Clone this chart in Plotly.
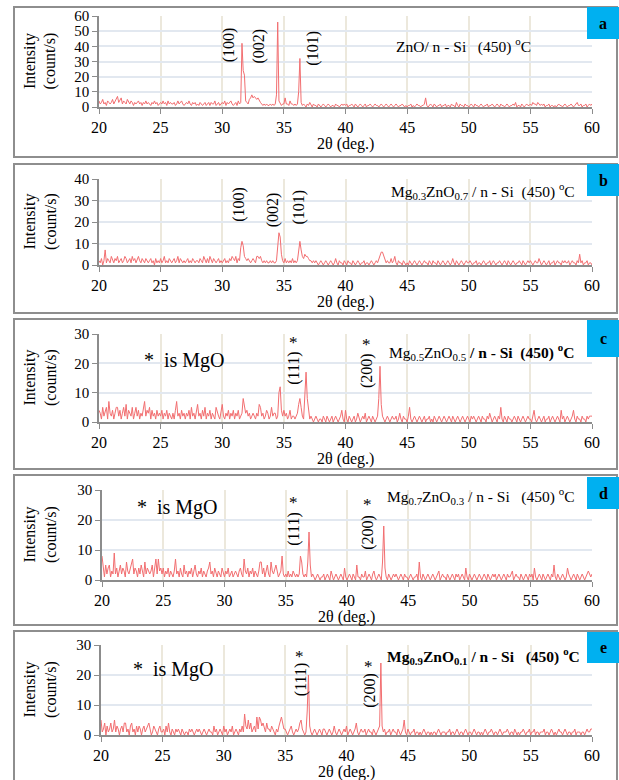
import plotly.graph_objects as go

# ---------------- data (intensity, counts/s), one row per degree, 0.1 deg step ----------------
two_theta_start = 20
ticks_x = [20, 25, 30, 35, 40, 45, 50, 55, 60]

znO_rows = [
 [4,2,3,5,2,3,1,4,3,2],[3,5,2,4,6,7,3,5,6,2],[4,3,2,5,3,2,4,3,1,3],[2,3,4,2,3,1,3,2,4,2],
 [3,2,1,3,2,4,2,3,1,2],[3,2,4,2,3,1,4,2,3,2],[2,3,1,2,4,2,3,4,2,1],[2,3,2,4,2,1,3,2,3,1],
 [2,1,3,2,1,2,3,1,2,3],[1,3,2,2,4,1,2,3,1,2],[3,2,4,1,3,2,3,4,2,1],[2,3,1,4,2,3,42,24,21,4],
 [3,2,5,6,8,6,7,6,5,6],[4,3,2,1,2,1,2,1,1,2],[1,2,1,2,8,56,4,2,1,2],[2,6,2,2,1,4,2,2,1,2],
 [1,2,10,32,3,1,2,1,0,2],[1,3,1,0,2,1,1,0,2,1],[0,1,2,1,0,1,2,1,0,1],[1,0,2,1,1,0,1,2,1,2],
 [1,2,0,1,1,2,1,0,2,1],[0,1,2,1,0,1,2,0,1,1],[2,1,0,1,2,1,1,0,1,2],[1,0,1,2,1,0,1,2,1,0],
 [1,2,1,0,1,1,2,1,0,1],[0,1,1,2,0,1,0,1,2,1],[1,0,1,1,2,6,1,0,1,2],[1,0,2,1,0,1,1,2,0,1],
 [1,2,0,1,1,0,2,1,1,0],[3,1,0,2,1,1,0,2,1,1],[0,1,2,1,0,2,1,1,0,1],[2,1,0,1,1,2,0,1,1,2],
 [1,0,1,2,1,0,2,1,1,0],[1,2,1,0,1,1,2,1,3,0],[1,1,0,2,1,0,1,2,1,1],[2,1,3,2,2,1,3,2,1,2],
 [1,2,0,1,1,2,0,1,1,0],[1,0,1,2,1,1,0,1,2,1],[0,1,1,2,1,0,1,2,3,1],[1,2,0,1,1,2,0,1,2,1],
 [2]]

mg03_rows = [
 [2,1,3,0,2,7,1,3,2,1],[4,2,1,3,2,4,1,2,3,1],[2,4,3,1,2,3,1,4,2,3],[1,3,4,2,1,3,2,1,3,2],
 [1,2,3,1,2,0,3,1,2,1],[3,1,2,4,1,2,1,3,2,1],[2,3,1,2,4,1,3,2,1,2],[1,2,3,1,2,1,3,2,1,2],
 [2,1,3,2,1,4,2,1,3,1],[4,2,1,3,2,1,2,3,1,2],[1,2,3,1,2,1,3,2,4,3],[2,4,1,3,2,8,11,9,4,3],
 [2,3,2,1,2,3,2,1,4,4],[3,4,2,1,2,1,2,1,1,2],[1,2,1,1,2,8,15,13,5,2],[1,3,1,2,1,2,1,3,1,2],
 [1,2,6,11,7,4,3,5,4,4],[3,2,2,1,2,1,2,1,0,1],[2,1,0,1,2,1,0,1,2,1],[0,1,3,1,0,2,1,1,0,2],
 [1,0,2,1,1,0,2,1,0,1],[2,1,0,1,1,2,0,1,1,0],[1,2,1,0,1,2,1,3,5,6],[6,4,2,1,2,1,1,3,1,2],
 [4,1,0,2,1,1,0,2,1,0],[1,0,2,1,0,1,2,1,0,1],[2,1,0,1,2,1,1,0,2,1],[0,2,1,1,0,2,1,0,1,2],
 [1,0,1,2,1,0,1,3,1,0],[2,1,0,1,2,1,0,1,2,1],[1,2,1,0,1,1,2,0,1,1],[0,1,2,1,0,1,1,2,0,1],
 [2,1,0,1,1,2,1,0,1,2],[1,0,2,1,0,1,2,1,0,1],[1,2,1,0,2,1,0,1,2,1],[2,1,0,1,2,1,1,3,1,0],
 [1,2,1,0,1,2,0,1,1,2],[0,1,2,1,1,0,2,1,2,1],[1,2,0,1,2,1,1,0,2,1],[5,1,2,0,1,1,2,0,1,1],
 [0]]

mg05_rows = [
 [4,3,1,5,2,4,5,1,7,3],[2,4,1,3,5,5,2,4,1,3],[5,2,6,1,4,3,2,5,1,3],[5,2,4,1,3,2,5,7,2,4],
 [3,5,1,4,2,3,1,4,2,3],[2,4,1,3,2,4,1,3,2,1],[3,1,4,7,2,3,1,4,2,3],[1,3,2,4,1,5,2,3,1,4],
 [6,2,3,1,4,2,5,1,3,2],[4,1,3,2,1,5,3,2,1,3],[6,2,1,3,2,4,1,3,2,4],[1,3,2,4,1,2,3,8,6,3],
 [4,2,3,1,2,3,2,1,3,2],[6,5,2,3,1,2,4,3,1,2],[5,2,3,3,1,2,10,12,4,2],[4,2,3,1,2,4,1,2,2,1],
 [2,3,6,8,5,2,1,10,17,8],[3,1,2,1,0,1,2,1,0,1],[1,0,2,1,0,2,1,0,1,2],[0,1,2,1,0,1,2,4,1,0],
 [4,1,0,2,1,0,1,2,0,1],[3,1,0,1,2,1,3,0,1,2],[1,0,2,1,0,1,2,8,19,6],[2,1,0,1,2,1,0,1,2,1],
 [1,2,0,1,3,1,0,2,1,1],[0,2,5,1,0,1,2,1,0,1],[2,1,0,1,2,0,1,1,2,0],[1,0,2,1,0,1,2,1,0,1],
 [2,1,0,1,2,1,0,2,1,0],[1,2,1,0,1,2,1,0,1,2],[1,0,2,1,2,1,0,1,2,1],[0,2,1,1,0,2,1,3,1,0],
 [1,2,1,0,2,1,5,1,0,2],[1,0,2,1,1,0,1,2,1,0],[2,1,0,1,2,1,0,1,2,1],[1,0,2,4,1,0,1,2,1,0],
 [1,2,0,1,1,2,0,1,2,1],[0,1,2,1,0,4,1,2,0,1],[2,1,0,1,2,4,1,0,2,1],[1,0,2,1,1,0,2,1,2,2],
 [2]]

mg07_rows = [
 [8,3,1,5,2,4,5,1,3,2],[9,2,4,1,3,5,2,4,3,1],[6,3,2,4,5,7,2,4,3,1],[4,2,5,3,1,6,2,4,3,2],
 [3,5,1,4,7,2,7,3,4,2],[4,1,3,2,4,1,3,2,1,3],[7,2,3,1,4,2,1,5,2,3],[1,3,2,4,1,3,5,2,1,3],
 [2,4,1,3,2,1,3,4,6,2],[3,1,4,2,1,3,2,1,4,2],[1,3,2,4,1,2,3,1,2,3],[2,1,3,4,2,1,7,3,2,4],
 [1,3,2,4,1,3,2,1,3,6],[6,2,4,1,3,5,2,1,6,3],[2,4,5,3,1,2,3,8,2,1],[2,1,3,1,2,1,3,2,1,2],
 [1,2,8,6,2,1,2,1,6,16],[5,1,2,1,0,1,2,1,0,1],[1,2,0,1,2,1,0,3,1,0],[1,2,1,0,1,2,1,0,4,1],
 [0,1,2,1,0,2,1,0,5,1],[1,0,2,1,1,3,0,1,2,1],[0,2,3,1,0,1,2,1,0,6],[18,4,1,0,2,1,0,1,2,1],
 [2,1,0,1,2,1,0,2,1,1],[0,1,2,1,0,1,1,2,0,6],[1,0,2,1,0,1,2,1,0,1],[2,1,0,1,2,3,0,1,2,1],
 [1,0,2,1,0,1,2,1,0,2],[1,2,0,1,2,1,0,4,1,0],[2,1,0,1,2,1,0,1,2,1],[0,1,2,1,0,2,1,0,1,2],
 [1,2,0,1,2,1,0,1,2,1],[0,2,1,1,2,3,0,1,2,1],[1,0,2,1,0,1,2,1,0,2],[1,2,0,4,1,0,1,2,1,0],
 [2,1,0,1,2,1,0,2,1,5],[1,0,2,1,0,1,2,1,0,1],[4,2,1,0,1,2,1,0,2,1],[0,1,2,1,0,1,2,3,2,1],
 [2]]

mg09_rows = [
 [5,1,2,4,0,3,1,2,4,1],[2,5,1,3,2,0,2,3,1,4],[4,1,2,0,3,4,1,2,0,3],[1,3,2,0,2,3,1,2,3,4],
 [2,0,1,3,2,1,0,2,3,1],[1,2,0,3,1,4,1,0,2,1],[0,2,1,2,1,0,2,1,0,1],[1,0,2,1,2,1,0,1,2,1],
 [2,1,0,1,2,1,0,1,2,1],[1,0,3,1,2,0,1,2,1,0],[3,1,2,0,1,2,1,3,0,1],[2,1,0,2,1,3,1,7,3,2],
 [5,2,4,1,2,3,1,6,2,6],[5,3,4,2,1,4,2,2,1,3],[2,1,0,2,1,3,5,6,4,2],[2,1,0,1,2,3,1,0,1,2],
 [1,2,4,5,2,1,0,1,8,20],[3,1,0,1,2,1,0,1,2,1],[0,2,2,1,0,1,2,1,0,1],[3,1,0,1,2,1,0,1,2,1],
 [3,0,1,2,1,0,1,2,4,1],[0,1,2,1,1,2,0,1,2,1],[1,0,2,1,0,1,2,3,24,3],[1,2,0,1,1,2,0,1,2,1],
 [1,0,2,1,0,1,2,5,1,0],[2,1,0,1,1,2,0,1,1,0],[1,0,1,2,1,0,1,1,0,1],[0,1,1,0,1,2,1,0,1,1],
 [1,0,1,1,2,0,1,1,0,1],[2,1,0,1,1,0,1,2,1,0],[1,1,0,1,2,1,0,1,1,0],[1,0,1,2,1,0,1,1,2,1],
 [0,1,1,0,1,2,1,0,1,1],[1,2,1,0,1,1,0,2,1,0],[1,0,1,1,2,1,0,1,1,2],[0,1,1,2,0,1,1,0,1,1],
 [1,2,0,1,1,0,1,2,1,0],[1,0,1,2,1,1,0,1,2,1],[0,1,1,0,1,1,2,0,1,1],[1,0,1,1,0,1,2,1,1,2],
 [2]]

panel_letters = ["a", "b", "c", "d", "e"]
y_max = [60, 40, 30, 30, 30]
y_step = 10

# ---------------- layout ----------------
W, H = 619, 780
FONT = "Liberation Serif, serif"
LINE = "#f26e70"
def xp(px): return px / W
def yp(py): return 1 - py / H

def expand(rows):
    xs, ys = [], []
    for r, row in enumerate(rows):
        for j, v in enumerate(row):
            xs.append(two_theta_start + r + j / 10)
            ys.append(v)
    return xs, ys

series = [znO_rows, mg03_rows, mg05_rows, mg07_rows, mg09_rows]

# pixel geometry: (axis left, axis right, y of top tick, y of zero, border top, border bottom, box top, box bottom)
geo = [
    (99, 592, 16, 107, 7, 157, 7, 39),
    (99, 592, 179, 265, 164, 313, 164, 196),
    (99, 592, 334, 422, 319, 469, 320, 357),
    (102, 592, 490, 580, 475, 625, 477, 509),
    (101, 592, 645, 735, 631, 790, 632, 663),
]

fig = go.Figure()
layout = dict(width=W, height=H, margin=dict(l=0, r=0, t=0, b=0, pad=0, autoexpand=False),
              paper_bgcolor="white", plot_bgcolor="white", showlegend=False,
              font=dict(family=FONT, color="black", size=16))
shapes, annos = [], []

def anno(**kw):
    d = dict(showarrow=False, xanchor="center", yanchor="middle")
    d.update(kw)
    annos.append(d)

for i, rows in enumerate(series):
    n = "" if i == 0 else str(i + 1)
    xs, ys = expand(rows)
    fig.add_trace(go.Scatter(x=xs, y=ys, mode="lines", xaxis="x" + n, yaxis="y" + n,
                             line=dict(color=LINE, width=1), hoverinfo="skip"))
    xl, xr, yt, y0, bt, bb, kt, kb = geo[i]
    layout["xaxis" + n] = dict(domain=[xp(xl), xp(xr)], anchor="y" + n, range=[20, 60],
                               tickvals=ticks_x, ticks="outside", ticklen=5, tickcolor="#8c8c8c",
                               showline=True, linecolor="#8c8c8c", linewidth=1.5,
                               showgrid=True, gridcolor="#ece8dc", gridwidth=1.5, zeroline=False,
                               tickfont=dict(size=16, family=FONT, color="black"), automargin=False)
    layout["yaxis" + n] = dict(domain=[yp(y0), yp(yt)], anchor="x" + n, range=[0, y_max[i]],
                               dtick=y_step, tick0=0, ticks="outside", ticklen=5, tickcolor="#8c8c8c",
                               showline=True, linecolor="#8c8c8c", linewidth=1.5,
                               showgrid=True, gridcolor="#e2e8f0", gridwidth=1.5, zeroline=False,
                               tickfont=dict(size=15, family=FONT, color="black"), automargin=False)
    shapes.append(dict(type="rect", xref="paper", yref="paper", x0=xp(14), x1=xp(617),
                       y0=yp(bb), y1=yp(bt), line=dict(color="#8e8e8e", width=2), fillcolor="rgba(0,0,0,0)"))
    shapes.append(dict(type="rect", xref="paper", yref="paper", x0=xp(587), x1=xp(619),
                       y0=yp(kb), y1=yp(kt), line=dict(width=0), fillcolor="#00b0f0"))
    anno(xref="paper", yref="paper", x=xp(603), y=yp((kt + kb) / 2),
         text="<b>%s</b>" % panel_letters[i], font=dict(size=16, family=FONT, color="black"))
    anno(xref="paper", yref="paper", x=xp(40), y=yp((yt + y0) / 2),
         text="Intensity<br>(count/s)", textangle=-90, font=dict(size=16, family=FONT))
    anno(xref="paper", yref="paper", x=xp((xl + xr) / 2), y=yp(y0 + 37),
         text="2θ (deg.)", font=dict(size=16, family=FONT))

NB = "\u00a0"
titles = [
    ("ZnO/ n - Si" + NB * 3 + "(450) <sup>o</sup>C", 394, 45),
    ("Mg<sub>0.3</sub>ZnO<sub>0.7</sub> / n - Si" + NB * 2 + "(450) <sup>o</sup>C", 389, 191),
    ("Mg<sub>0.5</sub>ZnO<sub>0.5</sub><b> / n - Si" + NB * 2 + "(450) <sup>o</sup>C</b>", 387, 352),
    ("Mg<sub>0.7</sub>ZnO<sub>0.3</sub> / n - Si" + NB * 3 + "(450) <sup>o</sup>C", 385, 496),
    ("<b>Mg<sub>0.9</sub>ZnO<sub>0.1</sub> / n - Si" + NB * 3 + "(450) <sup>o</sup>C</b>", 385, 656),
]
for t, x, y in titles:
    anno(xref="paper", yref="paper", x=xp(x), y=yp(y), xanchor="left",
         text=t, font=dict(size=15.5, family=FONT))

# peak labels: (panel, text, two-theta, intensity)
peak_labels = [
    (0, "(100)", 30.5, 41), (0, "(002)", 33.0, 40), (0, "(101)", 37.35, 39),
    (1, "(100)", 31.35, 28.4), (1, "(002)", 34.15, 25.6), (1, "(101)", 36.2, 27),
    (2, "(111)", 35.8, 18.4), (2, "(200)", 41.75, 17.4),
    (3, "(111)", 35.65, 17), (3, "(200)", 41.7, 16),
    (4, "(111)", 36.3, 18.3), (4, "(200)", 41.9, 15),
]
for p, t, x, y in peak_labels:
    n = "" if p == 0 else str(p + 1)
    anno(xref="x" + n, yref="y" + n, x=x, y=y, text=t, textangle=-90,
         font=dict(size=16, family=FONT))

stars = [(2, 35.75, 27), (2, 41.7, 26.5), (3, 35.6, 25.7), (3, 41.7, 25.3), (4, 36.2, 26.3), (4, 41.8, 22.7)]
for p, x, y in stars:
    n = str(p + 1)
    anno(xref="x" + n, yref="y" + n, x=x, y=y, text="*", font=dict(size=17, family=FONT))

mgo_notes = [(2, 26.9, 21.1), (3, 26.2, 24.3), (4, 25.9, 21.7)]
for p, x, y in mgo_notes:
    n = str(p + 1)
    anno(xref="x" + n, yref="y" + n, x=x, y=y, text="*" + NB * 2 + "is MgO",
         font=dict(size=20, family=FONT))

layout["shapes"] = shapes
layout["annotations"] = annos
fig.update_layout(**layout)
fig.write_html("out.html")
